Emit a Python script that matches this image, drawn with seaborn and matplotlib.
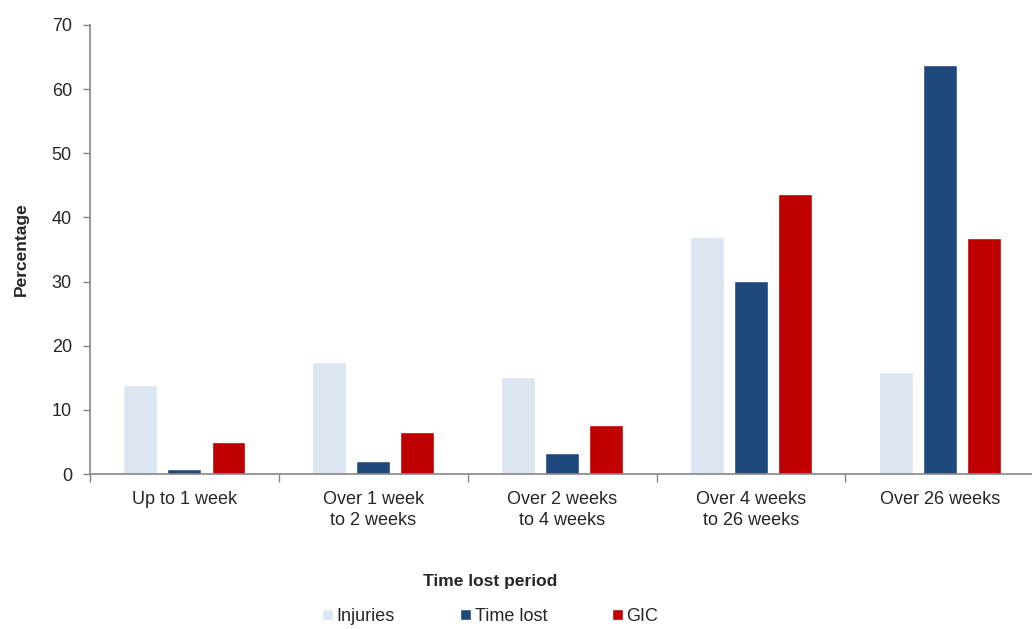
import pandas as pd
import matplotlib.pyplot as plt
import seaborn as sns
from matplotlib.ticker import FixedLocator

# Chart data
periods = ['Up to 1 week', 'Over 1 week\nto 2 weeks', 'Over 2 weeks\nto 4 weeks',
           'Over 4 weeks\nto 26 weeks', 'Over 26 weeks']
injuries = [13.9, 17.5, 15.1, 37.0, 15.9]
time_lost = [0.8, 2.0, 3.3, 30.1, 63.8]
gic = [5.0, 6.5, 7.6, 43.7, 36.8]
series = ['Injuries', 'Time lost', 'GIC']
colors = ['#DCE6F2', '#1F497D', '#C00000']

df = pd.DataFrame({'period': periods * 3,
                   'series': [s for s in series for _ in periods],
                   'value': injuries + time_lost + gic})

sns.set_style('white')
plt.rcParams['font.family'] = ['Liberation Sans', 'DejaVu Sans']

fig = plt.figure(figsize=(10.32, 6.29), dpi=100)
ax = fig.add_axes([0.0872, 0.2464, 0.915, 0.7139])

sns.barplot(data=df, x='period', y='value', hue='series', palette=colors,
            width=0.7, gap=0.23, errorbar=None, ax=ax, saturation=1)

ax.set_ylim(0, 70)
ax.set_xlim(-0.5, 4.5)
ax.set_yticks(range(0, 71, 10))
ax.tick_params(axis='y', labelsize=13, length=5, width=1, color='#868686', direction='out', pad=8, left=True)
ax.tick_params(axis='x', which='major', labelsize=13, length=0, pad=12)
for lbl in ax.get_xticklabels():
    lbl.set_linespacing(1.35)
ax.xaxis.set_minor_locator(FixedLocator([i - 0.5 for i in range(6)]))
ax.tick_params(axis='x', which='minor', length=6, width=1, color='#868686', direction='out', bottom=True)

for side in ['top', 'right']:
    ax.spines[side].set_visible(False)
for side in ['left', 'bottom']:
    ax.spines[side].set_color('#868686')
    ax.spines[side].set_linewidth(1.2)

ax.set_xlabel('Time lost period', fontsize=12.5, fontweight='bold')
ax.set_ylabel('Percentage', fontsize=12.5, fontweight='bold')
ax.xaxis.set_label_coords(0.424, -0.223)
ax.yaxis.set_label_coords(-0.0645, 0.5)

ax.legend(loc='upper center', bbox_to_anchor=(0.424, -0.274), ncol=3, frameon=False,
          fontsize=13, handlelength=0.6, handleheight=0.6, handletextpad=0.2,
          columnspacing=3.6, borderaxespad=0.2)

fig.savefig('out.png', dpi=100)
